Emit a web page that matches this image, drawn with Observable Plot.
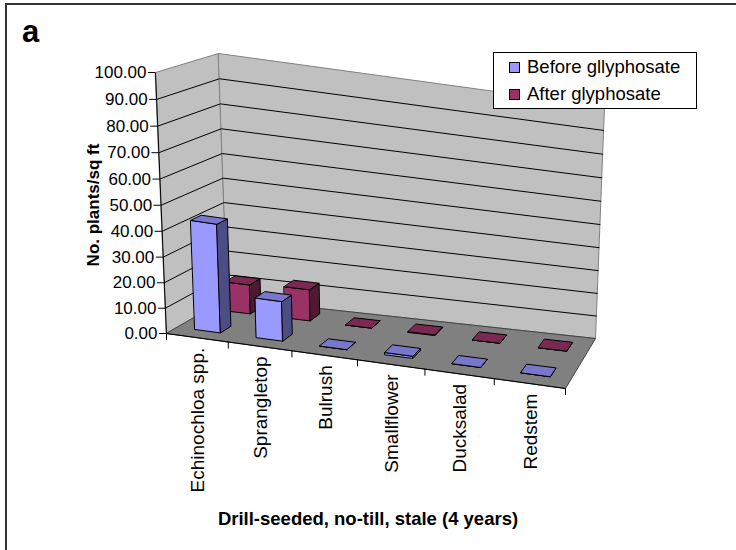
<!DOCTYPE html>
<html>
<head>
<meta charset="utf-8">
<script src="https://cdn.jsdelivr.net/npm/d3@7"></script>
<script src="https://cdn.jsdelivr.net/npm/@observablehq/plot@0.6"></script>
<style>
  html, body { margin: 0; padding: 0; background: #fff; overflow: hidden; }
  #wrap { position: relative; width: 736px; height: 550px; font-family: "Liberation Sans", Arial, sans-serif; color: #000; }
  #frame { position: absolute; left: 5px; top: 3px; width: 800px; height: 600px; border-left: 2px solid #333; border-top: 2px solid #333; }
  #chart { position: absolute; left: 0; top: 0; }
  #panel { position: absolute; left: 22px; top: 14px; font-weight: bold; font-size: 31px; }
  #ytitle { position: absolute; left: 94px; top: 205px; transform: translate(-50%, -50%) rotate(-90deg); font-weight: bold; font-size: 17px; white-space: nowrap; }
  #xtitle { position: absolute; left: 368px; top: 519px; transform: translate(-50%, -50%); font-weight: bold; font-size: 18.5px; white-space: nowrap; }
  #legend { position: absolute; left: 493px; top: 52px; width: 204px; height: 57px; border: 1px solid #000; background: #fff; box-sizing: border-box; font-size: 18.5px; }
  #legend .row { position: absolute; left: 15px; display: flex; align-items: center; white-space: nowrap; }
  #legend .sw { width: 11px; height: 11px; border: 1px solid #000; margin-right: 7px; box-sizing: border-box; }
</style>
</head>
<body>
<div id="wrap">
  <div id="chart"></div>
  <div id="frame"></div>
  <div id="panel">a</div>
  <div id="ytitle"></div>
  <div id="xtitle"></div>
  <div id="legend"></div>
</div>
<script>
// ---------------- data ----------------
const categories = ["Echinochloa spp.", "Sprangletop", "Bulrush", "Smallflower", "Ducksalad", "Redstem"];
const before = [43.2, 16.0, 0.0, 0.9, 0.0, 0.0];
const after = [12.0, 13.0, 0.0, 0.3, 0.0, 0.0];
const seriesNames = ["Before gllyphosate", "After glyphosate"];
const yTicks = [0, 10, 20, 30, 40, 50, 60, 70, 80, 90, 100];
const yTitle = "No. plants/sq ft";
const xTitle = "Drill-seeded, no-till, stale (4 years)";

// ---------------- 3D view (calibrated to the picture) ----------------
const nCat = categories.length;
const vMax = 100;
const box = {
  f0b: [166, 333], f6b: [565, 388], k0b: [227, 298], k6b: [595, 338],
  f0t: [155, 72],  f6t: [572, 141], k0t: [218, 53],  k6t: [604, 106]
};
const warpU = u => { const a = 60.8, b = 0.944; return (a * u + b * u * u) / (a * nCat + b * nCat * nCat); };
const warpV = v => { const a = 2.49, b = 0.0009; return (a * v + b * v * v) / (a * vMax + b * vMax * vMax); };
const lerp = (p, q, k) => [p[0] + (q[0] - p[0]) * k, p[1] + (q[1] - p[1]) * k];
function proj(u, w, v) {
  const s = warpU(u), r = warpV(v);
  const fb = lerp(box.f0b, box.f6b, s), kb = lerp(box.k0b, box.k6b, s);
  const ft = lerp(box.f0t, box.f6t, s), kt = lerp(box.k0t, box.k6t, s);
  return lerp(lerp(fb, kb, w), lerp(ft, kt, w), r);
}

// styling
const colors = {
  wall: "#c0c0c0", floor: "#808080",
  series: [
    { front: "#9999ff", side: "#4d4d85", top: "#7777cc" },
    { front: "#993366", side: "#4d1a33", top: "#7a2952" }
  ]
};
const rows = [[0.18, 0.36], [0.70, 0.88]];   // depth slots of the two series
const barHalf = 0.21;

// ---------------- build polygons ----------------
function poly(id, fill, stroke, pts) {
  return pts.map(([u, w, v]) => { const [x, y] = proj(u, w, v); return { id, fill, stroke, x, y }; });
}
const walls = [
  ...poly("left", colors.wall, "#808080", [[0, 0, 0], [0, 1, 0], [0, 1, vMax], [0, 0, vMax]]),
  ...poly("back", colors.wall, "#808080", [[0, 1, 0], [nCat, 1, 0], [nCat, 1, vMax], [0, 1, vMax]]),
  ...poly("floor", colors.floor, "#404040", [[0, 0, 0], [nCat, 0, 0], [nCat, 1, 0], [0, 1, 0]])
];

const grid = [];
yTicks.filter(v => v > 0 && v < vMax).forEach(v => {
  [[0, 0, v], [0, 1, v], [nCat, 1, v]].forEach(([u, w, vv]) => {
    const [x, y] = proj(u, w, vv); grid.push({ id: "g" + v, x, y });
  });
});

const bars = [];
[after, before].forEach((vals, k) => {
  const s = k === 0 ? 1 : 0;  // back row (after) first, then front row (before)
  const [w0, w1] = rows[s];
  const c = colors.series[s];
  vals.forEach((v, i) => {
    const u0 = i + 0.5 - barHalf, u1 = i + 0.5 + barHalf;
    const id = `b${s}-${i}`;
    bars.push(...poly(id + "f", c.front, "#000", [[u0, w0, 0], [u1, w0, 0], [u1, w0, v], [u0, w0, v]]));
    bars.push(...poly(id + "s", c.side, "#000", [[u1, w0, 0], [u1, w1, 0], [u1, w1, v], [u1, w0, v]]));
    bars.push(...poly(id + "t", c.top, "#000", [[u0, w0, v], [u1, w0, v], [u1, w1, v], [u0, w1, v]]));
  });
});

const px = (u, w, v) => proj(u, w, v)[0];
const py = (u, w, v) => proj(u, w, v)[1];
const xTickIdx = d3.range(0, nCat + 1);

const chart = Plot.plot({
  width: 736, height: 550,
  margin: 0,
  x: { type: "linear", domain: [0, 736], range: [0, 736], axis: null },
  y: { type: "linear", domain: [0, 550], range: [0, 550], axis: null },
  color: { type: "identity" },
  style: { fontFamily: "'Liberation Sans', Arial, sans-serif", background: "transparent" },
  marks: [
    Plot.line(walls, { x: "x", y: "y", z: "id", fill: "fill", stroke: "stroke", strokeWidth: 1, curve: "linear-closed" }),
    Plot.line(grid, { x: "x", y: "y", z: "id", stroke: "#000", strokeWidth: 1 }),
    // axes
    Plot.link([0], { x1: u => px(u, 0, 0), y1: u => py(u, 0, 0), x2: u => px(u, 0, vMax), y2: u => py(u, 0, vMax), stroke: "#000" }),
    Plot.link([0], { x1: u => px(u, 0, 0), y1: u => py(u, 0, 0), x2: () => px(nCat, 0, 0), y2: () => py(nCat, 0, 0), stroke: "#000" }),
    Plot.ruleY(yTicks, { y: v => py(0, 0, v), x1: v => px(0, 0, v) - 7, x2: v => px(0, 0, v), stroke: "#000" }),
    Plot.text(yTicks, { x: v => px(0, 0, v), y: v => py(0, 0, v), text: v => v.toFixed(2), textAnchor: "end", dx: -9, fontSize: 17, fill: "#000" }),
    Plot.ruleX(xTickIdx, { x: u => px(u, 0, 0), y1: u => py(u, 0, 0), y2: u => py(u, 0, 0) + 7, stroke: "#000" }),
    Plot.text(categories, { x: (d, i) => px(i + 0.5, 0, 0), y: (d, i) => py(i + 0.5, 0, 0), rotate: -90, textAnchor: "end", lineAnchor: "middle", dy: 10, dx: 1, fontSize: 19, fill: "#000" }),
    // bars
    Plot.line(bars, { x: "x", y: "y", z: "id", fill: "fill", stroke: "stroke", strokeWidth: 1, strokeLinejoin: "round", curve: "linear-closed" })
  ]
});
document.getElementById("chart").appendChild(chart);

document.getElementById("ytitle").textContent = yTitle;
document.getElementById("xtitle").textContent = xTitle;
const leg = document.getElementById("legend");
seriesNames.forEach((name, i) => {
  const row = document.createElement("div");
  row.className = "row";
  row.style.top = (i === 0 ? 3 : 30) + "px";
  const sw = document.createElement("div");
  sw.className = "sw";
  sw.style.background = colors.series[i].front;
  const t = document.createElement("span");
  t.textContent = name;
  row.appendChild(sw); row.appendChild(t);
  leg.appendChild(row);
});
</script>
</body>
</html>
